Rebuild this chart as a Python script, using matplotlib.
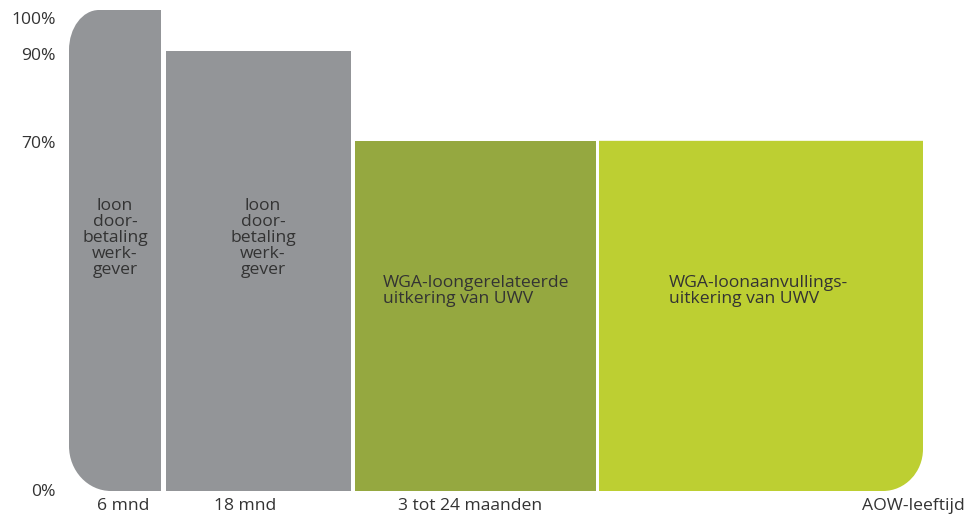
import numpy as np
import matplotlib
matplotlib.use("Agg")
import matplotlib.pyplot as plt
from matplotlib.path import Path
from matplotlib.patches import PathPatch
from matplotlib.transforms import ScaledTranslation, Affine2D

# ---- data ----
segments = ["loon\ndoor-\nbetaling\nwerk-\ngever",
            "loon\ndoor-\nbetaling\nwerk-\ngever",
            "WGA-loongerelateerde\nuitkering van UWV",
            "WGA-loonaanvullings-\nuitkering van UWV"]
values = [100, 90, 70, 70]
period_labels = ["6 mnd", "18 mnd", "3 tot 24 maanden", "AOW-leeftijd"]
ytick_values = [0, 70, 90, 100]
ytick_labels = ["0%", "70%", "90%", "100%"]

# ---- layout / style ----
W, H, DPI = 976, 518, 100
edges = [(69, 161), (166, 351), (355, 596), (599, 923)]
colors = ["#939598", "#939598", "#95a840", "#bdcf32"]
corners = [dict(tl=(30, 40), bl=(42, 45)), {}, {}, dict(br=(40, 42))]
text_color = "#333333"
plt.rcParams['font.family'] = ['Open Sans', 'DejaVu Sans']

fig = plt.figure(figsize=(W / DPI, H / DPI), dpi=DPI)
ax = fig.add_axes([0, (H - 491) / H, 1, (491 - 10) / H])

# value axis as drawn in the original (not strictly linear)
src = np.array([0, 70, 90, 100], float)
dst = np.array([0, 72.8, 91.5, 100], float)
ax.set_yscale('function', functions=(lambda y: np.interp(y, src, dst),
                                     lambda y: np.interp(y, dst, src)))
ax.set_xlim(0, W)
ax.set_ylim(0, 100)
for s in ax.spines.values():
    s.set_visible(False)
ax.set_xticks([])
ax.set_yticks([])

fig.canvas.draw()
K = 0.5523
pix = Affine2D().scale(1, -1).translate(0, H)  # top-left pixel coords


def rounded_path(x0, x1, y0, y1, tl=None, bl=None, br=None):
    verts, codes = [], []
    def move(p):
        verts.append(p); codes.append(Path.MOVETO)
    def line(p):
        verts.append(p); codes.append(Path.LINETO)
    def curve(c1, c2, p):
        verts.extend([c1, c2, p]); codes.extend([Path.CURVE4] * 3)
    move((x0 + tl[0], y1) if tl else (x0, y1))
    line((x1, y1))
    if br:
        rx, ry = br
        line((x1, y0 + ry))
        curve((x1, y0 + ry * (1 - K)), (x1 - rx * (1 - K), y0), (x1 - rx, y0))
    else:
        line((x1, y0))
    if bl:
        rx, ry = bl
        line((x0 + rx, y0))
        curve((x0 + rx * (1 - K), y0), (x0, y0 + ry * (1 - K)), (x0, y0 + ry))
    else:
        line((x0, y0))
    if tl:
        rx, ry = tl
        line((x0, y1 - ry))
        curve((x0, y1 - ry * (1 - K)), (x0 + rx * (1 - K), y1), (x0 + rx, y1))
    else:
        line((x0, y1))
    verts.append(verts[0]); codes.append(Path.CLOSEPOLY)
    return Path(verts, codes)


for (xa, xb), v, c, cr in zip(edges, values, colors, corners):
    (dx0, dy0) = ax.transData.transform((xa, 0))
    (dx1, dy1) = ax.transData.transform((xb, v))
    p = rounded_path(dx0, dx1, dy0, dy1, **cr)
    ax.add_patch(PathPatch(p, transform=None, facecolor=c, edgecolor='none'))

fs = 12.6
# segment texts (pixel positions)
text_pos = [(115, 238, 'center'), (263, 238, 'center'), (383, 291, 'left'), (669, 291, 'left')]
for label, (tx, ty, ha) in zip(segments, text_pos):
    fig.text(tx, ty, label, ha=ha, va='center', fontsize=fs, color=text_color,
             linespacing=1.02, multialignment=ha, transform=pix)

# period labels below
label_x = [123, 245, 470, 965]
label_ha = ['center', 'center', 'center', 'right']
for lab, lx, ha in zip(period_labels, label_x, label_ha):
    fig.text(lx, 506, lab, ha=ha, va='center', fontsize=fs, color=text_color, transform=pix)

# y tick labels
ylab_off = {100: -10, 90: -5, 70: -3, 0: -1}
for v, lab in zip(ytick_values, ytick_labels):
    t = ax.text(56, v, lab, ha='right', va='center', fontsize=fs, color=text_color)
    t.set_transform(ax.transData + ScaledTranslation(0, ylab_off[v] / DPI, fig.dpi_scale_trans))

fig.savefig("out.png", dpi=DPI)
